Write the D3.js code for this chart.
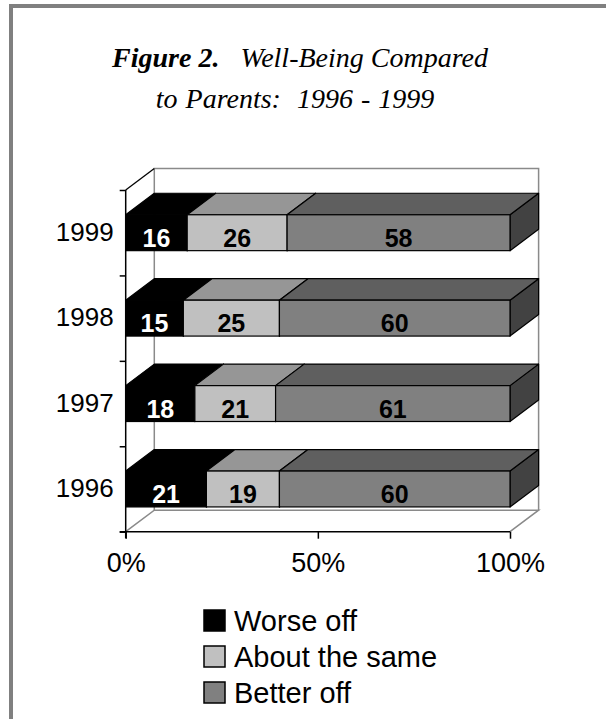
<!DOCTYPE html>
<html>
<head>
<meta charset="utf-8">
<script src="https://cdn.jsdelivr.net/npm/d3@7"></script>
<style>
  body { margin: 0; background: #fff; }
  svg { display: block; }
</style>
</head>
<body>
<div id="chart"></div>
<script>
// data
var years = ["1999", "1998", "1997", "1996"];
var worseOff = [16, 15, 18, 21];
var aboutSame = [26, 25, 21, 19];
var betterOff = [58, 60, 61, 60];
var seriesNames = ["Worse off", "About the same", "Better off"];
var xTicks = [0, 50, 100];

function drawChart() {
    var W = 606, H = 719;
    var svg = d3.select("#chart").append("svg")
        .attr("width", W)
        .attr("height", H);

    // page frame (top and left edges only)
    svg.append("rect").attr("x", 9).attr("y", 4).attr("width", W - 9).attr("height", 4).attr("fill", "#808080");
    svg.append("rect").attr("x", 9).attr("y", 4).attr("width", 4).attr("height", H - 4).attr("fill", "#808080");

    // title
    var title = svg.append("text")
        .attr("x", 300)
        .attr("y", 67)
        .attr("text-anchor", "middle")
        .style("font-family", "'Liberation Serif', 'Times New Roman', serif")
        .style("font-size", "28px")
        .style("font-style", "italic")
        .style("white-space", "pre");
    title.append("tspan").style("font-weight", "bold").text("Figure 2.");
    title.append("tspan").text("   Well-Being Compared");
    svg.append("text")
        .attr("x", 295)
        .attr("y", 108)
        .attr("text-anchor", "middle")
        .style("font-family", "'Liberation Serif', 'Times New Roman', serif")
        .style("font-size", "28px")
        .style("font-style", "italic")
        .style("white-space", "pre")
        .style("word-spacing", "1px")
        .text("to Parents:  1996 - 1999");

    // plot geometry
    var pLeft = 125.7, pRight = 510, pTop = 190, pBottom = 531.7;
    var dx = 28.6, dy = -21.5;

    var x = d3.scaleLinear().domain([0, 100]).range([pLeft, pRight]);
    var y = d3.scaleBand().domain(years).range([pTop, pBottom])
        .paddingInner(0.58).paddingOuter(0.29);

    var table = years.map(function (yr, i) {
        return { year: yr, "Worse off": worseOff[i], "About the same": aboutSame[i], "Better off": betterOff[i] };
    });
    var stacked = d3.stack().keys(seriesNames)(table);

    var frontColor = ["#000000", "#c0c0c0", "#808080"];
    var topColor = ["#000000", "#969696", "#5f5f5f"];
    var sideColor = ["#000000", "#777777", "#424242"];

    var wall = "#8a8a8a";
    // back wall and floor
    svg.append("path")
        .attr("d", "M" + (pLeft + dx) + "," + (pBottom + dy) + "V" + (pTop + dy) + "H" + (pRight + dx) + "V" + (pBottom + dy))
        .attr("fill", "none").attr("stroke", wall).attr("stroke-width", 1.5);
    svg.append("path")
        .attr("d", "M" + pLeft + "," + pBottom + "L" + (pLeft + dx) + "," + (pBottom + dy) + "H" + (pRight + dx) + "L" + pRight + "," + pBottom)
        .attr("fill", "none").attr("stroke", wall).attr("stroke-width", 1.5);
    // left wall top edge
    svg.append("line")
        .attr("x1", pLeft).attr("y1", pTop).attr("x2", pLeft + dx).attr("y2", pTop + dy)
        .attr("stroke", "#000").attr("stroke-width", 1.3);

    function poly(pts) {
        return "M" + pts.map(function (p) { return p[0] + "," + p[1]; }).join("L") + "Z";
    }

    // bars: front face, top face and right side face per segment
    var groups = svg.append("g").selectAll("g")
        .data(stacked)
        .enter().append("g");

    groups.each(function (series, si) {
        var g = d3.select(this);
        series.forEach(function (d) {
            var x0 = x(d[0]), x1 = x(d[1]);
            var y0 = y(d.data.year), y1 = y0 + y.bandwidth();
            g.append("path")
                .attr("d", poly([[x1, y0], [x1 + dx, y0 + dy], [x1 + dx, y1 + dy], [x1, y1]]))
                .attr("fill", sideColor[si]).attr("stroke", "#000").attr("stroke-width", 1.2).attr("stroke-linejoin", "round");
            g.append("path")
                .attr("d", poly([[x0, y0], [x0 + dx, y0 + dy], [x1 + dx, y0 + dy], [x1, y0]]))
                .attr("fill", topColor[si]).attr("stroke", "#000").attr("stroke-width", 1.2).attr("stroke-linejoin", "round");
            g.append("rect")
                .attr("x", x0).attr("y", y0)
                .attr("width", x1 - x0).attr("height", y1 - y0)
                .attr("fill", frontColor[si]).attr("stroke", "#000").attr("stroke-width", 1.2);
            g.append("text")
                .attr("x", (x0 + x1) / 2)
                .attr("y", y0 + y.bandwidth() / 2 + 14)
                .attr("text-anchor", "middle")
                .style("font-family", "'Liberation Sans', Arial, sans-serif")
                .style("font-weight", "bold")
                .style("font-size", "25px")
                .attr("fill", si === 0 ? "#fff" : "#000")
                .text(d[1] - d[0]);
        });
    });

    // axes
    var yTick = d3.scaleLinear().domain([0, years.length]).range([pBottom, pTop]);
    svg.append("g")
        .attr("transform", "translate(" + pLeft + ",0)")
        .call(d3.axisLeft(yTick).tickValues(d3.range(years.length + 1)).tickFormat("").tickSize(6).tickSizeOuter(0))
        .call(function (g) {
            g.select(".domain").attr("d", "M0," + pTop + "V" + (pBottom + 6.5));
            g.selectAll("line, path").attr("stroke", "#000").attr("stroke-width", 1.5);
        });

    var yLab = d3.scaleBand().domain(years).range([pTop, pBottom]);
    svg.append("g")
        .attr("transform", "translate(" + pLeft + ",0)")
        .call(d3.axisLeft(yLab).tickSize(0).tickPadding(12))
        .call(function (g) {
            g.select(".domain").remove();
            g.selectAll("text")
                .style("font-family", "'Liberation Sans', Arial, sans-serif")
                .style("font-size", "26px")
                .attr("fill", "#000");
        });

    svg.append("g")
        .attr("transform", "translate(0," + pBottom + ")")
        .call(d3.axisBottom(x).tickValues(xTicks).tickFormat(function (d) { return d + "%"; })
            .tickSize(7).tickSizeOuter(0).tickPadding(14))
        .call(function (g) {
            g.select(".domain").attr("d", "M" + (pLeft - 6) + ",0H" + pRight);
            g.selectAll("line, path").attr("stroke", "#000").attr("stroke-width", 1.5);
            g.selectAll("text")
                .style("font-family", "'Liberation Sans', Arial, sans-serif")
                .style("font-size", "27px")
                .attr("fill", "#000");
        });

    // legend
    var legend = svg.append("g").selectAll("g")
        .data(seriesNames)
        .enter().append("g")
        .attr("transform", function (d, i) { return "translate(204," + (610 + i * 36) + ")"; });
    legend.append("rect")
        .attr("width", 21).attr("height", 21)
        .attr("fill", function (d, i) { return frontColor[i]; })
        .attr("stroke", "#000").attr("stroke-width", 1.5);
    legend.append("text")
        .attr("x", 30).attr("y", 21)
        .style("font-family", "'Liberation Sans', Arial, sans-serif")
        .style("font-size", "29px")
        .text(function (d) { return d; });
}

drawChart();
</script>
</body>
</html>
